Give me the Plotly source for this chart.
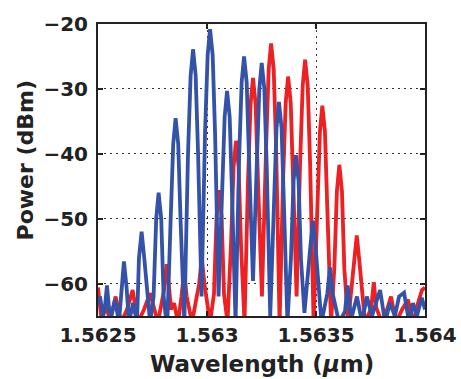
import plotly.graph_objects as go

# Blue spectrum (wavelength in um, power in dBm)
blue_wl = [1.562500, 1.562509, 1.562523, 1.562530, 1.562541, 1.562552, 1.562560, 1.562578,
           1.562596, 1.562607, 1.562619, 1.562631, 1.562642, 1.562661, 1.562679,
           1.562688, 1.562700, 1.562712, 1.562739,
           1.562755, 1.562767, 1.562778, 1.562790, 1.562801, 1.562817,
           1.562833, 1.562845, 1.562856, 1.562868, 1.562879, 1.562896,
           1.562913, 1.562925, 1.562936, 1.562948, 1.562959, 1.562975,
           1.562991, 1.563003, 1.563014, 1.563026, 1.563037, 1.563053,
           1.563069, 1.563081, 1.563092, 1.563104, 1.563115, 1.563131,
           1.563147, 1.563159, 1.563170, 1.563182, 1.563193, 1.563211,
           1.563228, 1.563240, 1.563251, 1.563263, 1.563274, 1.563290,
           1.563307, 1.563319, 1.563330, 1.563342, 1.563353, 1.563369,
           1.563385, 1.563397, 1.563408, 1.563420, 1.563431, 1.563447,
           1.563474, 1.563486, 1.563498, 1.563525,
           1.563552, 1.563564, 1.563576, 1.563606,
           1.563633, 1.563645, 1.563657, 1.563665, 1.563688,
           1.563711, 1.563733, 1.563757, 1.563775, 1.563794, 1.563817, 1.563839, 1.563862,
           1.563881, 1.563904, 1.563927, 1.563945, 1.563963, 1.563985, 1.564000]
blue_dbm = [-63, -62, -65, -64.3, -60.3, -64.3, -65, -62.5,
            -66, -60.6, -56.6, -60.6, -66, -63, -66,
            -56, -52, -56, -66,
            -62, -50, -46, -50, -62, -67,
            -50.5, -38.5, -34.5, -38.5, -50.5, -66,
            -39.9, -27.9, -23.9, -27.9, -39.9, -62,
            -36.8, -24.8, -20.8, -24.8, -36.8, -62,
            -46.3, -34.3, -30.3, -34.3, -46.3, -66,
            -41, -29, -25, -29, -41, -59.6,
            -42, -30, -26, -30, -42, -65,
            -48, -36, -32, -36, -48, -66,
            -56.2, -44.2, -40.2, -44.2, -56.2, -64.5,
            -54.3, -50.3, -54.3, -66,
            -61.5, -57.5, -61.5, -66,
            -64.3, -60.3, -64.3, -65, -62,
            -66, -62, -65, -63, -61, -66, -63, -65,
            -62, -61.4, -66, -63, -65, -62.2, -64]

# Red spectrum
red_wl = [1.562500, 1.562514, 1.562537, 1.562555, 1.562581, 1.562606, 1.562633, 1.562659,
          1.562683, 1.562711, 1.562739, 1.562775,
          1.562803, 1.562815, 1.562827, 1.562835, 1.562849, 1.562867,
          1.562883, 1.562895, 1.562907, 1.562931,
          1.562964, 1.562976, 1.562988, 1.563014,
          1.563032, 1.563044, 1.563055, 1.563067, 1.563078, 1.563094,
          1.563110, 1.563122, 1.563133, 1.563145, 1.563156, 1.563172,
          1.563188, 1.563200, 1.563211, 1.563223, 1.563234, 1.563252,
          1.563271, 1.563283, 1.563294, 1.563306, 1.563317, 1.563333,
          1.563349, 1.563361, 1.563372, 1.563384, 1.563395, 1.563411,
          1.563427, 1.563439, 1.563450, 1.563462, 1.563473, 1.563489,
          1.563506, 1.563518, 1.563529, 1.563541, 1.563552, 1.563569,
          1.563584, 1.563596, 1.563607, 1.563619, 1.563630, 1.563647,
          1.563675, 1.563687, 1.563699, 1.563725,
          1.563753, 1.563765, 1.563777, 1.563803,
          1.563826, 1.563844, 1.563867, 1.563895, 1.563922, 1.563945, 1.563968, 1.563986,
          1.564000]
red_dbm = [-60.6, -65, -63, -66, -62, -66, -64, -61,
           -66, -64, -61.5, -66,
           -61, -57, -61, -64, -63, -66,
           -62, -58, -62, -66,
           -60, -56, -60, -66,
           -61.6, -49.6, -45.6, -49.6, -61.6, -66,
           -54, -42, -38, -42, -54, -66,
           -44.3, -32.3, -28.3, -32.3, -44.3, -62,
           -39, -27, -23, -27, -39, -66,
           -44.1, -32.1, -28.1, -32.1, -44.1, -62,
           -41.5, -29.5, -25.5, -29.5, -41.5, -66,
           -48.6, -36.6, -32.6, -36.6, -48.6, -66,
           -57.7, -45.7, -41.7, -45.7, -57.7, -66,
           -56.6, -52.6, -56.6, -66,
           -63.8, -59.8, -63.8, -66,
           -64, -62, -66, -64, -62.5, -66, -63, -61,
           -60.6]

x_ticks = [1.5625, 1.563, 1.5635, 1.564]
x_tick_text = ["1.5625", "1.563", "1.5635", "1.564"]
y_ticks = [-60, -50, -40, -30, -20]
y_tick_text = ["\u221260", "\u221250", "\u221240", "\u221230", "\u221220"]

BLUE = "rgb(52,82,168)"
RED = "rgb(237,32,36)"
FONT = "DejaVu Sans"

fig = go.Figure()
fig.add_trace(go.Scatter(x=red_wl, y=red_dbm, mode="lines",
                         line=dict(color=RED, width=3.8), showlegend=False))
fig.add_trace(go.Scatter(x=blue_wl, y=blue_dbm, mode="lines",
                         line=dict(color=BLUE, width=3.8), showlegend=False))

axis_common = dict(showline=True, mirror="ticks", linecolor="#222", linewidth=2,
                   ticks="inside", ticklen=5, tickcolor="#222", tickwidth=1.5,
                   showgrid=True, gridcolor="#333", gridwidth=1, griddash="2px,4px",
                   zeroline=False, automargin=False,
                   tickfont=dict(family=FONT, size=20, color="#222", weight="bold"))

fig.update_xaxes(range=[1.5625, 1.564], tickvals=x_ticks, ticktext=x_tick_text,
                 **axis_common)
fig.update_yaxes(range=[-65, -20], tickvals=y_ticks, ticktext=y_tick_text,
                 ticklabelstandoff=4, **axis_common)

fig.add_annotation(text="Wavelength (<i>\u03bc</i>m)", xref="paper", yref="paper",
                   x=0.5, y=-0.166, xanchor="center", yanchor="middle", showarrow=False,
                   font=dict(family=FONT, size=23, color="#222", weight="bold"))
fig.add_annotation(text="Power (dBm)", xref="paper", yref="paper",
                   x=-0.222, y=0.534, xanchor="center", yanchor="middle", showarrow=False,
                   textangle=-90,
                   font=dict(family=FONT, size=22, color="#222", weight="bold"))

fig.update_layout(width=461, height=379, margin=dict(l=98, r=36, t=24, b=63),
                  paper_bgcolor="white", plot_bgcolor="white")

fig.write_html("out.html")
